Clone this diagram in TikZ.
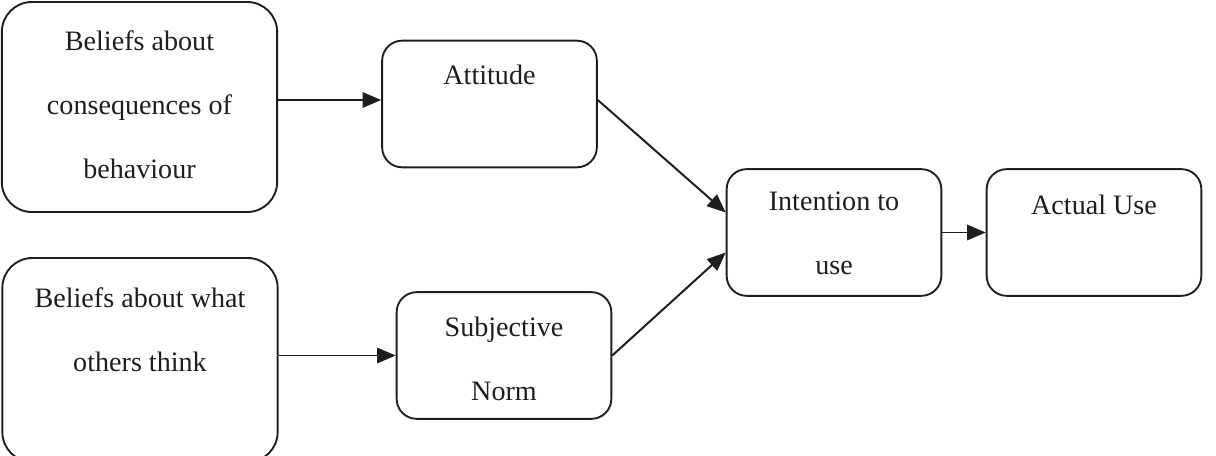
\documentclass[tikz,border=0pt]{standalone}
\usepackage{fontspec}
\setmainfont{Liberation Serif}
\usepackage{tikz}
\usetikzlibrary{arrows.meta,positioning}
\definecolor{ink}{HTML}{1E1E1E}
\tikzset{
  bigbox/.style={draw=ink,line width=0.8pt,rounded corners=0.45cm,
                 minimum width=4.13cm,inner sep=0pt},
  smallbox/.style={draw=ink,line width=0.8pt,rounded corners=0.3cm,
                   minimum width=3.22cm,minimum height=1.9cm,inner sep=0pt},
  boxtext/.style={align=center,inner sep=0pt,text=ink,
                  font=\fontsize{12}{27.3}\selectfont},
  arr/.style={-{Triangle[length=2.8mm,width=2.3mm]},line width=0.85pt,draw=ink}
}
\begin{document}
\begin{tikzpicture}[x=0.015cm,y=-0.015cm]
    \useasboundingbox (0,0) rectangle (1216,456);

    \node[bigbox,minimum height=3.15cm] (conseq) at (139.5,107) {};
    \node[bigbox,minimum height=3.06cm] (others) at (140,360) {};
    \node[smallbox] (attitude) at (489.5,104) {};
    \node[smallbox] (norm) at (504,355.5) {};
    \node[smallbox] (intention) at (834,232.5) {};
    \node[smallbox] (use) at (1094,232.5) {};

    \node[boxtext,below=0.435cm of conseq.north] (conseqtext)
      {Beliefs about\\consequences of\\behaviour};
    \node[boxtext,below=0.45cm of others.north] (otherstext)
      {Beliefs about what\\others think};
    \node[boxtext,below=0.375cm of attitude.north] (attitudetext)
      {Attitude};
    \node[boxtext,below=0.375cm of norm.north] (normtext)
      {Subjective\\Norm};
    \node[boxtext,below=0.345cm of intention.north] (intentiontext)
      {Intention to\\use};
    \node[boxtext,below=0.39cm of use.north] (usetext)
      {Actual Use};

    \draw[arr] ([yshift=0.06cm]conseq.east |- attitude.west)
      -- ([yshift=0.06cm]attitude.west);
    \draw[arr] (others.east |- norm.west) -- (norm.west);
    \draw[arr] ([yshift=0.06cm]attitude.east) -- ([yshift=0.3cm]intention.west);
    \draw[arr] (norm.east) -- ([yshift=-0.3cm]intention.west);
    \draw[arr] (intention) -- (use);
  \end{tikzpicture}
\end{document}
